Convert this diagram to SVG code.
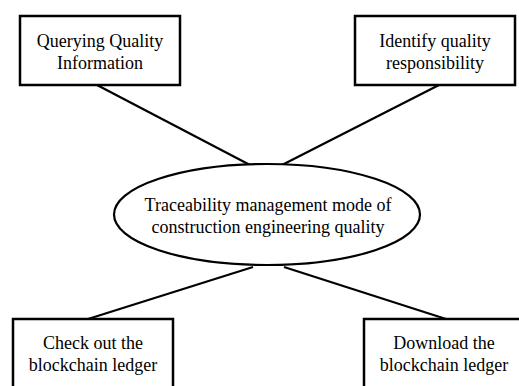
<svg xmlns="http://www.w3.org/2000/svg" width="519" height="386" viewBox="0 0 519 386">
  <style>
    .box { fill: #ffffff; stroke: #000000; stroke-width: 2.5; }
    .hub { fill: #ffffff; stroke: #000000; stroke-width: 2.2; }
    .link { stroke: #000000; stroke-width: 2.2; fill: none; }
    text { font-family: "Liberation Serif", "Times New Roman", serif; font-size: 18px; fill: #000000; text-anchor: middle; }
  </style>
  <rect width="519" height="386" fill="#ffffff"/>
  <g id="connectors">
    <line class="link" x1="97" y1="85" x2="250" y2="165"/>
    <line class="link" x1="439" y1="85" x2="282" y2="165"/>
    <line class="link" x1="88" y1="319" x2="253" y2="267"/>
    <line class="link" x1="446" y1="319" x2="284" y2="267"/>
  </g>
  <g id="querying">
    <rect class="box" x="20" y="16" width="160" height="69"/>
    <text x="100" y="47">Querying Quality</text>
    <text x="100" y="69">Information</text>
  </g>
  <g id="identify">
    <rect class="box" x="355" y="16" width="160" height="69"/>
    <text x="435" y="47">Identify quality</text>
    <text x="435" y="69">responsibility</text>
  </g>
  <g id="traceability">
    <ellipse class="hub" cx="267" cy="214.5" rx="153" ry="50.5"/>
    <text x="268" y="211">Traceability management mode of</text>
    <text x="268" y="233">construction engineering quality</text>
  </g>
  <g id="check-out">
    <rect class="box" x="13" y="319" width="160" height="80"/>
    <text x="93" y="349">Check out the</text>
    <text x="93" y="371">blockchain ledger</text>
  </g>
  <g id="download">
    <rect class="box" x="364" y="319" width="160" height="80"/>
    <text x="444" y="349">Download the</text>
    <text x="444" y="371">blockchain ledger</text>
  </g>
</svg>
